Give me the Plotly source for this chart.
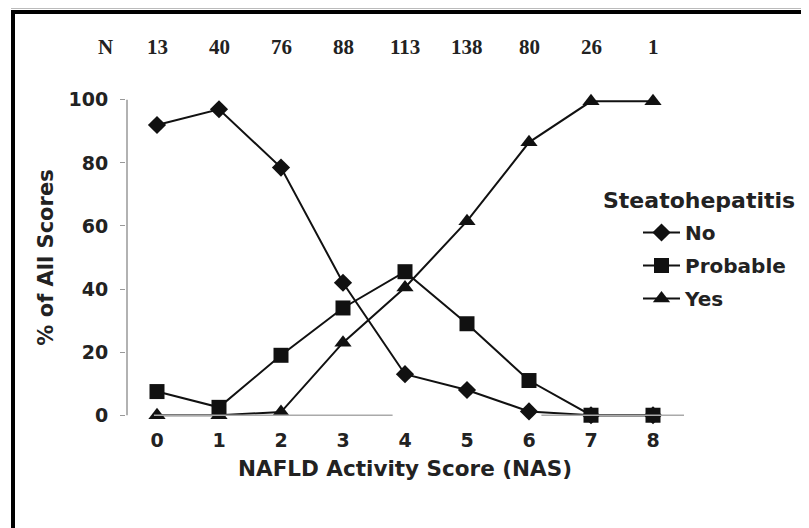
import plotly.graph_objects as go

# ---- data ----
nas_scores = [0, 1, 2, 3, 4, 5, 6, 7, 8]
n_counts = [13, 40, 76, 88, 113, 138, 80, 26, 1]
pct_no = [92, 97, 78.5, 42, 13, 8, 1.2, 0, 0]
pct_probable = [7.5, 2.5, 19, 34, 45.5, 29, 11, 0, 0]
pct_yes = [0, 0, 1, 23, 40.5, 61.5, 86.5, 99.5, 99.5]
y_ticks = [0, 20, 40, 60, 80, 100]
series_names = ["No", "Probable", "Yes"]

# the page adds an 8px body margin; work in reference pixel coords minus that offset
OFF = 8
W, H = 809 - OFF, 528 - OFF
L, R, T, B = 126 - OFF, 684 - OFF, 84 - OFF, 431 - OFF


def px_x(p):
    return (p - OFF - L) / (R - L)


def px_y(p):
    return (B - (p - OFF)) / (B - T)


SANS = "DejaVu Sans"
SERIF = "Liberation Serif"
TXT = "#222222"

fig = go.Figure()
symbols = ["diamond", "square", "triangle-up"]
sizes = [14, 15, 15]
for i, (name, vals) in enumerate(zip(series_names, [pct_no, pct_probable, pct_yes])):
    fig.add_trace(go.Scatter(
        x=nas_scores, y=vals, name=name, mode="lines+markers",
        line=dict(color="#111111", width=2),
        marker=dict(symbol=symbols[i], size=sizes[i], color="#111111"),
        legendgroup=name,
    ))

annotations = []
# N row
annotations.append(dict(x=px_x(105), y=px_y(47), xref="paper", yref="paper", text="<b>N</b>",
                        xanchor="center", yanchor="middle",
                        showarrow=False, font=dict(family=SERIF, size=21, color=TXT)))
for xs, n in zip(nas_scores, n_counts):
    annotations.append(dict(x=xs, y=px_y(47), xref="x", yref="paper", text=f"<b>{n}</b>",
                            xanchor="center", yanchor="middle",
                            showarrow=False, font=dict(family=SERIF, size=21, color=TXT)))
# legend title
annotations.append(dict(x=px_x(601), y=px_y(200), xref="paper", yref="paper", xanchor="left",
                        yanchor="middle", text="<b>Steatohepatitis</b>", showarrow=False,
                        font=dict(family=SANS, size=22, color=TXT)))

shapes = [
    dict(type="line", xref="paper", yref="paper", x0=px_x(11), x1=px_x(809), y0=px_y(8), y1=px_y(8),
         line=dict(color="#bbbbbb", width=2)),
    dict(type="line", xref="paper", yref="paper", x0=px_x(11), x1=px_x(809), y0=px_y(12), y1=px_y(12),
         line=dict(color="#000000", width=4)),
    dict(type="line", xref="paper", yref="paper", x0=px_x(13), x1=px_x(13), y0=px_y(10), y1=px_y(528),
         line=dict(color="#000000", width=4)),
    dict(type="line", xref="paper", yref="y", x0=px_x(127), x1=px_x(127), y0=0, y1=100,
         line=dict(color="#999999", width=1.5)),
    dict(type="line", xref="x", yref="y", x0=-0.05, x1=3.8, y0=0, y1=0,
         line=dict(color="#aaaaaa", width=1.5)),
    dict(type="line", xref="x", yref="y", x0=6.2, x1=8.5, y0=0, y1=0,
         line=dict(color="#aaaaaa", width=1.5)),
]

fig.update_layout(
    width=W, height=H,
    margin=dict(l=L, r=W - R, t=T, b=H - B, pad=0),
    paper_bgcolor="white", plot_bgcolor="white",
    showlegend=True,
    legend=dict(x=px_x(638), y=px_y(213), xanchor="left", yanchor="top",
                font=dict(family=SANS, size=20, color=TXT, weight="bold"),
                traceorder="grouped", tracegroupgap=4, bgcolor="rgba(0,0,0,0)", itemwidth=37),
    xaxis=dict(range=[-0.5, 8.5], tickvals=nas_scores, ticks="", showline=False, showgrid=False,
               zeroline=False, ticklabelstandoff=-4,
               tickfont=dict(family=SANS, size=19, color=TXT, weight="bold"),
               title=dict(text="NAFLD Activity Score (NAS)", standoff=10,
                          font=dict(family=SANS, size=21.5, color=TXT, weight="bold"))),
    yaxis=dict(range=[-5, 105], tickvals=y_ticks, ticks="outside", ticklen=5, tickcolor="#999999",
               showline=False, showgrid=False, zeroline=False, ticklabelstandoff=8,
               tickfont=dict(family=SANS, size=19, color=TXT, weight="bold"),
               title=dict(text="% of All Scores", standoff=9,
                          font=dict(family=SANS, size=21, color=TXT, weight="bold"))),
    annotations=annotations,
    shapes=shapes,
)

fig.write_html("out.html")
